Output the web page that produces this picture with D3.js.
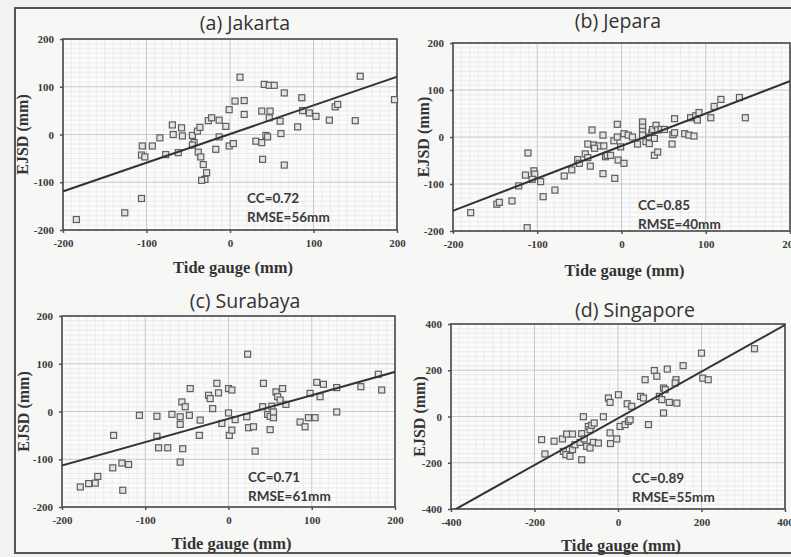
<!DOCTYPE html>
<html>
<head>
<meta charset="utf-8">
<script src="https://cdn.jsdelivr.net/npm/d3@7"></script>
<style>
  html, body { margin: 0; padding: 0; background: #f2f2f1; }
  svg { display: block; }
</style>
</head>
<body>
<svg id="fig" width="791" height="557"></svg>
<script>
// Station names and panel letters
const stations = ["Jakarta", "Jepara", "Surabaya", "Singapore"];
const panelLetters = ["a", "b", "c", "d"];

// Tide gauge vs EJSD anomalies (mm)
const jakartaTide = [-184,-126,-106,-106,-102,-105,-93,-84,-77,-69,-68,-58,-57,-62,-45,-43,-45,-39,-36,-38,-35,-32,-28,-30,-34,-26,-22,-13,-17,-13,-5,-1,-1,4,6,17,12,17,38,48,31,38,39,43,45,47,41,47,53,60,61,65,65,81,86,87,95,103,119,126,129,150,156,197];
const jakartaEjsd = [-178,-164,-134,-43,-47,-24,-24,-7,-42,20,0,14,-3,-38,-2,-17,-22,7,15,-37,-47,-63,-80,-94,-96,29,35,30,-31,-5,17,52,-24,-19,70,71,120,42,49,49,-14,-17,-52,-2,-5,35,105,103,103,28,2,87,-64,16,77,50,45,38,30,58,63,29,122,73];

const jeparaTide = [-179,-148,-145,-130,-122,-112,-111,-114,-104,-103,-106,-96,-93,-79,-68,-59,-52,-50,-43,-40,-37,-35,-40,-33,-27,-21,-32,-22,-22,-19,-17,-13,-9,-8,-5,-5,-4,3,-1,3,8,13,19,25,25,25,25,29,33,36,37,33,39,41,43,39,43,47,51,61,63,60,63,75,80,86,82,88,92,90,106,110,118,140,147];
const jeparaEjsd = [-161,-143,-139,-136,-104,-193,-34,-81,-72,-79,-90,-95,-127,-113,-83,-70,-48,-56,-36,-44,-62,15,-15,-17,-19,-19,-24,4,-78,-42,-39,-39,-8,-88,27,0,-49,-56,-21,7,4,0,-15,32,21,12,4,-10,0,9,16,-14,-3,25,15,-39,-32,16,16,5,9,-15,39,7,4,2,41,45,52,36,41,65,80,84,41];

const surabayaTide = [-178,-168,-160,-157,-139,-138,-128,-120,-127,-107,-86,-86,-84,-73,-68,-56,-52,-58,-58,-55,-58,-47,-46,-35,-34,-24,-22,-19,-14,-12,-8,0,4,0,1,4,8,22,23,24,30,32,42,41,50,47,50,54,52,54,57,59,62,65,69,86,92,96,104,98,106,114,110,130,130,159,180,184];
const surabayaEjsd = [-158,-151,-150,-136,-118,-50,-108,-111,-165,-8,-10,-52,-76,-76,-6,20,10,-11,-27,-78,-106,-8,48,-50,-18,34,27,6,59,39,-25,48,45,-3,-50,-39,-17,-11,120,-34,-32,-83,59,10,-38,-6,-10,-13,11,-1,41,31,24,48,15,-22,-32,-13,-13,38,61,57,31,-1,50,52,78,45];

const singaporeTide = [-183,-175,-153,-133,-123,-109,-131,-125,-115,-109,-103,-91,-87,-87,-83,-81,-75,-71,-67,-63,-57,-59,-47,-67,-35,-23,-19,-19,-18,-3,1,5,17,25,29,22,33,54,61,65,73,87,93,99,105,109,109,113,118,123,141,139,137,156,200,203,216,327];
const singaporeEjsd = [-100,-162,-107,-97,-76,-76,-151,-165,-172,-143,-122,-112,-187,-74,-1,-97,-129,-43,-57,-38,-28,-112,-115,-136,-1,80,61,-71,-117,-97,94,-43,-35,-21,-14,55,44,87,80,159,-35,199,174,87,73,15,123,116,205,61,58,159,145,220,274,166,159,293];

// Linear fit and skill scores per station
const fitSlope = [0.60, 0.69, 0.49, 1.01];
const fitIntercept = [1, -19, -15, -8];
const ccValues = ["0.72", "0.85", "0.71", "0.89"];
const rmseValues = [56, 40, 61, 55];

// Axis extents and tick values
const axisLimit = [200, 200, 200, 400];
const tickValuesSmall = [-200, -100, 0, 100, 200];
const tickValuesLarge = [-400, -200, 0, 200, 400];

const tideSeries = [jakartaTide, jeparaTide, surabayaTide, singaporeTide];
const ejsdSeries = [jakartaEjsd, jeparaEjsd, surabayaEjsd, singaporeEjsd];

// Pixel placement of each panel
const layout = [
  { x0: 63,  x1: 397, y0: 230, y1: 39,  titleX: 245, titleY: 30,  yLabX: 22,  statX: 247, statY: 203, xLabY: 273 },
  { x0: 453, x1: 790, y0: 231, y1: 43,  titleX: 618, titleY: 28,  yLabX: 423, statX: 638, statY: 210, xLabY: 276 },
  { x0: 62,  x1: 395, y0: 507, y1: 316, titleX: 245, titleY: 308, yLabX: 23,  statX: 248, statY: 482, xLabY: 549 },
  { x0: 451, x1: 785, y0: 509, y1: 324, titleX: 635, titleY: 317, yLabX: 419, statX: 632, statY: 483, xLabY: 551 }
];

const svg = d3.select("#fig");

// Outer frame of the figure
svg.append("rect")
  .attr("x", 15).attr("y", 8)
  .attr("width", 790).attr("height", 545)
  .attr("fill", "#f7f7f6")
  .attr("stroke", "#555").attr("stroke-width", 2);

const serif = "'Liberation Serif', 'Times New Roman', serif";
const sans = "'Open Sans', Lato, sans-serif";

stations.forEach((name, i) => {
  const L = layout[i];
  const lim = axisLimit[i];
  const ticks = lim === 200 ? tickValuesSmall : tickValuesLarge;
  const minorStep = lim / 20;

  const x = d3.scaleLinear().domain([-lim, lim]).range([L.x0, L.x1]);
  const y = d3.scaleLinear().domain([-lim, lim]).range([L.y0, L.y1]);

  const g = svg.append("g");

  // plot background
  g.append("rect")
    .attr("x", L.x0).attr("y", L.y1)
    .attr("width", L.x1 - L.x0).attr("height", L.y0 - L.y1)
    .attr("fill", "#fbfbfb");

  // minor grid
  const minor = d3.range(-lim, lim + 0.001, minorStep).filter(v => !ticks.includes(v));
  g.append("g").selectAll("line").data(minor).join("line")
    .attr("x1", d => x(d)).attr("x2", d => x(d))
    .attr("y1", L.y0).attr("y2", L.y1)
    .attr("stroke", "#e9e9e9").attr("stroke-width", 0.8);
  g.append("g").selectAll("line").data(minor).join("line")
    .attr("y1", d => y(d)).attr("y2", d => y(d))
    .attr("x1", L.x0).attr("x2", L.x1)
    .attr("stroke", "#e9e9e9").attr("stroke-width", 0.8);

  // major grid
  g.append("g").selectAll("line").data(ticks).join("line")
    .attr("x1", d => x(d)).attr("x2", d => x(d))
    .attr("y1", L.y0).attr("y2", L.y1)
    .attr("stroke", "#c9c9c9").attr("stroke-width", 1);
  g.append("g").selectAll("line").data(ticks).join("line")
    .attr("y1", d => y(d)).attr("y2", d => y(d))
    .attr("x1", L.x0).attr("x2", L.x1)
    .attr("stroke", "#c9c9c9").attr("stroke-width", 1);

  // axes
  const xAxis = g.append("g")
    .attr("transform", `translate(0,${L.y0})`)
    .call(d3.axisBottom(x).tickValues(ticks).tickSize(3).tickPadding(6).tickFormat(d => String(d)));
  const yAxis = g.append("g")
    .attr("transform", `translate(${L.x0},0)`)
    .call(d3.axisLeft(y).tickValues(ticks).tickSize(3).tickPadding(6).tickFormat(d => String(d)));
  [xAxis, yAxis].forEach(ax => {
    ax.select(".domain").remove();
    ax.selectAll(".tick line").attr("stroke", "#555").attr("stroke-width", 1.5);
    ax.selectAll(".tick text")
      .attr("font-family", serif).attr("font-weight", "bold")
      .attr("font-size", 11).attr("fill", "#3a3a3a");
  });

  // plot border
  g.append("rect")
    .attr("x", L.x0).attr("y", L.y1)
    .attr("width", L.x1 - L.x0).attr("height", L.y0 - L.y1)
    .attr("fill", "none").attr("stroke", "#4a4a4a").attr("stroke-width", 1.6);

  // clip for fit line
  const clipId = "clip-" + panelLetters[i];
  svg.append("clipPath").attr("id", clipId)
    .append("rect")
    .attr("x", L.x0).attr("y", L.y1)
    .attr("width", L.x1 - L.x0).attr("height", L.y0 - L.y1);

  // scatter points
  const pts = tideSeries[i].map((t, k) => [t, ejsdSeries[i][k]]);
  const s = 6;
  g.append("g").selectAll("rect").data(pts).join("rect")
    .attr("x", d => x(d[0]) - s / 2).attr("y", d => y(d[1]) - s / 2)
    .attr("width", s).attr("height", s)
    .attr("fill", "#e4e4e4").attr("stroke", "#5e5e5e").attr("stroke-width", 1.2);

  // regression line
  const line = d3.line().x(d => x(d)).y(d => y(fitSlope[i] * d + fitIntercept[i]));
  g.append("path")
    .datum([-lim * 1.2, lim * 1.2])
    .attr("clip-path", `url(#${clipId})`)
    .attr("d", line)
    .attr("fill", "none").attr("stroke", "#333").attr("stroke-width", 2);

  // statistics
  g.append("text")
    .attr("x", L.statX).attr("y", L.statY)
    .attr("font-family", "Lato, sans-serif").attr("font-weight", "bold").attr("font-size", 13.5)
    .attr("fill", "#3a3a3a")
    .text("CC=" + ccValues[i]);
  g.append("text")
    .attr("x", L.statX).attr("y", L.statY + 19)
    .attr("font-family", "Lato, sans-serif").attr("font-weight", "bold").attr("font-size", 13.5)
    .attr("fill", "#3a3a3a")
    .text("RMSE=" + rmseValues[i] + "mm");

  // panel title
  g.append("text")
    .attr("x", L.titleX).attr("y", L.titleY)
    .attr("text-anchor", "middle")
    .attr("font-family", sans).attr("font-size", 19.5)
    .attr("fill", "#333")
    .text(`(${panelLetters[i]}) ${name}`);

  // axis titles
  g.append("text")
    .attr("x", (L.x0 + L.x1) / 2 + 3).attr("y", L.xLabY)
    .attr("text-anchor", "middle")
    .attr("font-family", serif).attr("font-weight", "bold").attr("font-size", 16.5)
    .attr("fill", "#333")
    .text("Tide gauge (mm)");
  g.append("text")
    .attr("transform", `translate(${L.yLabX},${(L.y0 + L.y1) / 2}) rotate(-90)`)
    .attr("text-anchor", "middle").attr("dy", "0.35em")
    .attr("font-family", serif).attr("font-weight", "bold").attr("font-size", 16)
    .attr("fill", "#333")
    .text("EJSD (mm)");
});
</script>
</body>
</html>
